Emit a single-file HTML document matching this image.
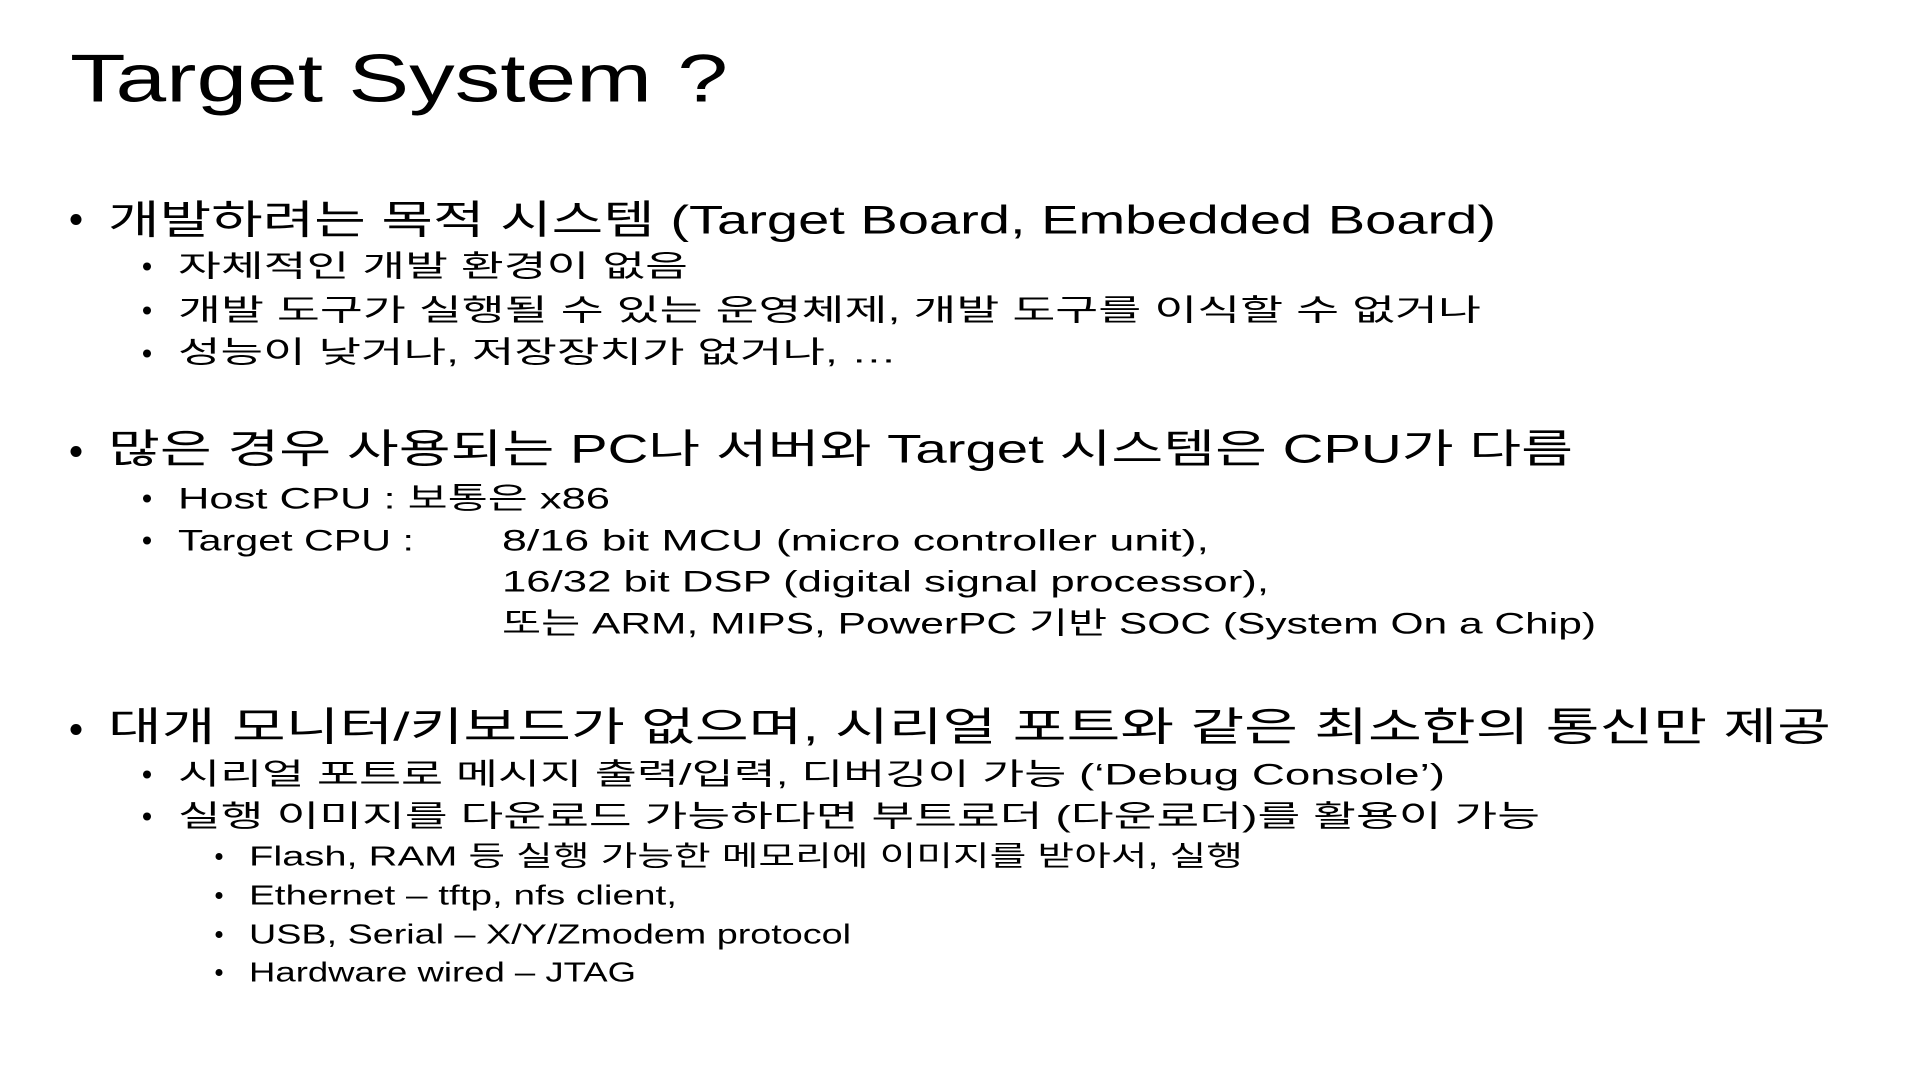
<!DOCTYPE html>
<html><head><meta charset="utf-8"><style>
html,body{margin:0;padding:0;background:#fff;width:1920px;height:1080px;overflow:hidden}
svg text{font-family:"Liberation Sans","Noto Sans CJK KR","NanumGothic",sans-serif;fill:#000}
</style></head><body>
<svg width="1920" height="1080" viewBox="0 0 1920 1080" xmlns="http://www.w3.org/2000/svg">
<g transform="translate(0,-3.5)">
<text x="70" y="105" font-size="68" textLength="658" lengthAdjust="spacingAndGlyphs">Target System ?</text>

<circle cx="76" cy="223" r="5.5"/>
<text x="108" y="237" font-size="40" textLength="1388" lengthAdjust="spacingAndGlyphs">개발하려는 목적 시스템  (Target Board, Embedded Board)</text>
<circle cx="147" cy="270" r="4"/>
<text x="178" y="280" font-size="30" textLength="510" lengthAdjust="spacingAndGlyphs">자체적인 개발 환경이 없음</text>
<circle cx="147" cy="314" r="4"/>
<text x="178" y="324" font-size="30" textLength="1303" lengthAdjust="spacingAndGlyphs">개발 도구가 실행될 수 있는 운영체제, 개발 도구를 이식할 수 없거나</text>
<circle cx="147" cy="357" r="4"/>
<text x="178" y="366" font-size="30" textLength="719" lengthAdjust="spacingAndGlyphs">성능이 낮거나,  저장장치가 없거나, …</text>

<circle cx="76" cy="455" r="5.5"/>
<text x="108" y="466" font-size="40" textLength="1465" lengthAdjust="spacingAndGlyphs">많은 경우 사용되는 PC나 서버와 Target 시스템은 CPU가 다름</text>
<circle cx="147" cy="502" r="4"/>
<text x="178" y="512" font-size="30" textLength="432" lengthAdjust="spacingAndGlyphs">Host CPU : 보통은 x86</text>
<circle cx="147" cy="544" r="4"/>
<text x="178" y="554" font-size="30" textLength="236" lengthAdjust="spacingAndGlyphs">Target CPU :</text>
<text x="502" y="554" font-size="30" textLength="707" lengthAdjust="spacingAndGlyphs">8/16 bit MCU (micro controller unit),</text>
<text x="502" y="595" font-size="30" textLength="767" lengthAdjust="spacingAndGlyphs">16/32 bit DSP (digital signal processor),</text>
<text x="502" y="637" font-size="30" textLength="1094" lengthAdjust="spacingAndGlyphs">또는 ARM, MIPS, PowerPC 기반 SOC (System On a Chip)</text>

<circle cx="76" cy="733" r="5.5"/>
<text x="108" y="744" font-size="40" textLength="1723" lengthAdjust="spacingAndGlyphs">대개 모니터/키보드가 없으며, 시리얼 포트와 같은 최소한의 통신만 제공</text>
<circle cx="147" cy="778" r="4"/>
<text x="178" y="788" font-size="30" textLength="1267" lengthAdjust="spacingAndGlyphs">시리얼 포트로 메시지 출력/입력, 디버깅이 가능 (‘Debug Console’)</text>
<circle cx="147" cy="820" r="4"/>
<text x="178" y="830" font-size="30" textLength="1362" lengthAdjust="spacingAndGlyphs">실행 이미지를 다운로드 가능하다면 부트로더 (다운로더)를 활용이 가능</text>
<circle cx="219" cy="860" r="3.5"/>
<text x="249" y="869" font-size="28" textLength="994" lengthAdjust="spacingAndGlyphs">Flash, RAM 등 실행 가능한 메모리에 이미지를 받아서, 실행</text>
<circle cx="219" cy="899" r="3.5"/>
<text x="249" y="908" font-size="28" textLength="428" lengthAdjust="spacingAndGlyphs">Ethernet – tftp, nfs client,</text>
<circle cx="219" cy="938" r="3.5"/>
<text x="249" y="947" font-size="28" textLength="602" lengthAdjust="spacingAndGlyphs">USB, Serial – X/Y/Zmodem protocol</text>
<circle cx="219" cy="976" r="3.5"/>
<text x="249" y="985" font-size="28" textLength="387" lengthAdjust="spacingAndGlyphs">Hardware wired – JTAG</text>
</g>
</svg>
</body></html>
